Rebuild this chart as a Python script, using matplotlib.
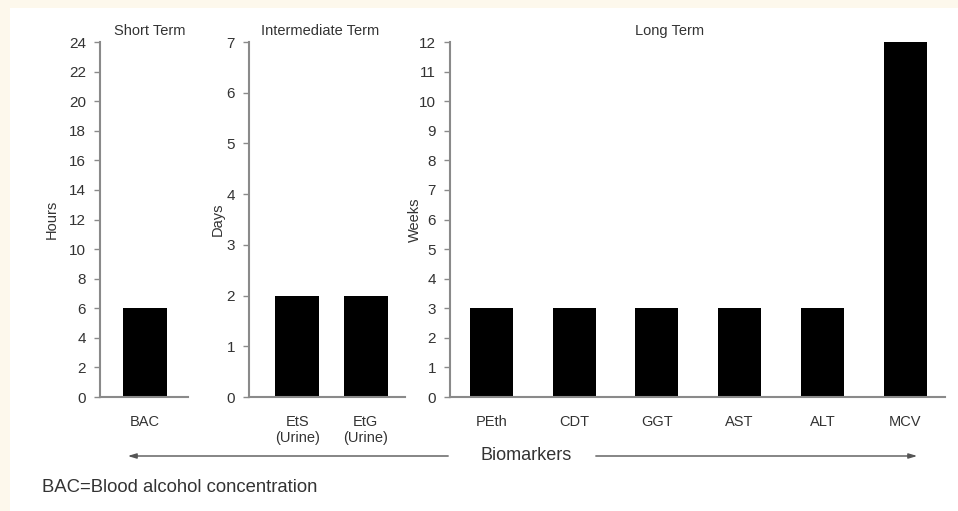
import numpy as np
from matplotlib import pyplot as plt
from matplotlib.patches import Rectangle

# data
short_names = ['BAC']
short_hours = [6]
mid_names = ['EtS\n(Urine)', 'EtG\n(Urine)']
mid_days = [2, 2]
long_names = ['PEth', 'CDT', 'GGT', 'AST', 'ALT', 'MCV']
long_weeks = [3, 3, 3, 3, 3, 12]

hours_ticks = np.arange(0, 25, 2)
days_ticks = np.arange(0, 8, 1)
weeks_ticks = np.arange(0, 13, 1)

plt.rcParams['font.family'] = ['Liberation Sans', 'DejaVu Sans']

W, H = 958, 511
fig = plt.figure(figsize=(W / 100, H / 100), dpi=100)
fig.patch.set_facecolor('#fdf8ec')
# white panel inside the cream border
fig.patches.append(Rectangle((10 / W, 0), 1 - 10 / W, 1 - 8 / H,
                             transform=fig.transFigure, facecolor='white',
                             edgecolor='none', zorder=-5))

axis_col = '#8a8a8a'
text_col = '#333333'


def px_axes(left, right):
    # axes box given in pixels, y=0 at 397 and top at 42
    return fig.add_axes([left / W, (H - 397) / H, (right - left) / W, 355 / H])


def style(ax, ticks, ylab, lab_x):
    for s in ['top', 'right']:
        ax.spines[s].set_visible(False)
    for s in ['left', 'bottom']:
        ax.spines[s].set_color(axis_col)
        ax.spines[s].set_linewidth(1.5)
    ax.set_facecolor('none')
    ax.set_yticks(ticks)
    ax.set_ylim(ticks[0], ticks[-1])
    ax.tick_params(axis='y', length=4, width=1, color=axis_col, pad=6,
                   labelsize=11, labelcolor=text_col)
    ax.tick_params(axis='x', length=0, pad=13, labelsize=10.5,
                   labelcolor=text_col)
    ax.set_ylabel(ylab, fontsize=10.5, color=text_col)
    ax.yaxis.set_label_coords(lab_x, 0.5)


ax1 = px_axes(100, 188)
ax1.bar(np.arange(len(short_names)), short_hours, width=1.0, color='black')
ax1.set_xlim(-1.02, 0.98)
ax1.set_xticks(np.arange(len(short_names)), short_names)
style(ax1, hours_ticks, 'Hours', -0.466)
ax1.set_title('Short Term', fontsize=10.5, color=text_col, x=0.57, pad=5)

ax2 = px_axes(249, 405)
ax2.bar(np.arange(len(mid_names)), mid_days, width=0.64, color='black')
ax2.set_xlim(-0.70, 1.57)
ax2.set_xticks(np.arange(len(mid_names)), mid_names)
style(ax2, days_ticks, 'Days', -0.154)
ax2.set_title('Intermediate Term', fontsize=10.5, color=text_col, x=0.455, pad=5)

ax3 = px_axes(450, 945)
ax3.bar(np.arange(len(long_names)), long_weeks, width=0.52, color='black')
ax3.set_xlim(-0.50, 5.48)
ax3.set_xticks(np.arange(len(long_names)), long_names)
style(ax3, weeks_ticks, 'Weeks', -0.057)
ax3.set_title('Long Term', fontsize=10.5, color=text_col, x=0.444, pad=5)

# biomarker arrows
ya = 1 - 456 / H
arrow = dict(arrowstyle='-|>,head_length=0.5,head_width=0.15', color='#555555', lw=1)
fig.add_artist(plt.Annotation('', xy=(125 / W, ya), xytext=(451 / W, ya),
                              xycoords='figure fraction', arrowprops=arrow))
fig.add_artist(plt.Annotation('', xy=(920 / W, ya), xytext=(593 / W, ya),
                              xycoords='figure fraction', arrowprops=arrow))
fig.text(526 / W, ya, 'Biomarkers', fontsize=13, color=text_col,
         ha='center', va='center')

fig.text(42 / W, 1 - 488 / H, 'BAC=Blood alcohol concentration', fontsize=13.3,
         color=text_col, ha='left', va='center')

plt.savefig('out.png', dpi=100, facecolor=fig.get_facecolor())
